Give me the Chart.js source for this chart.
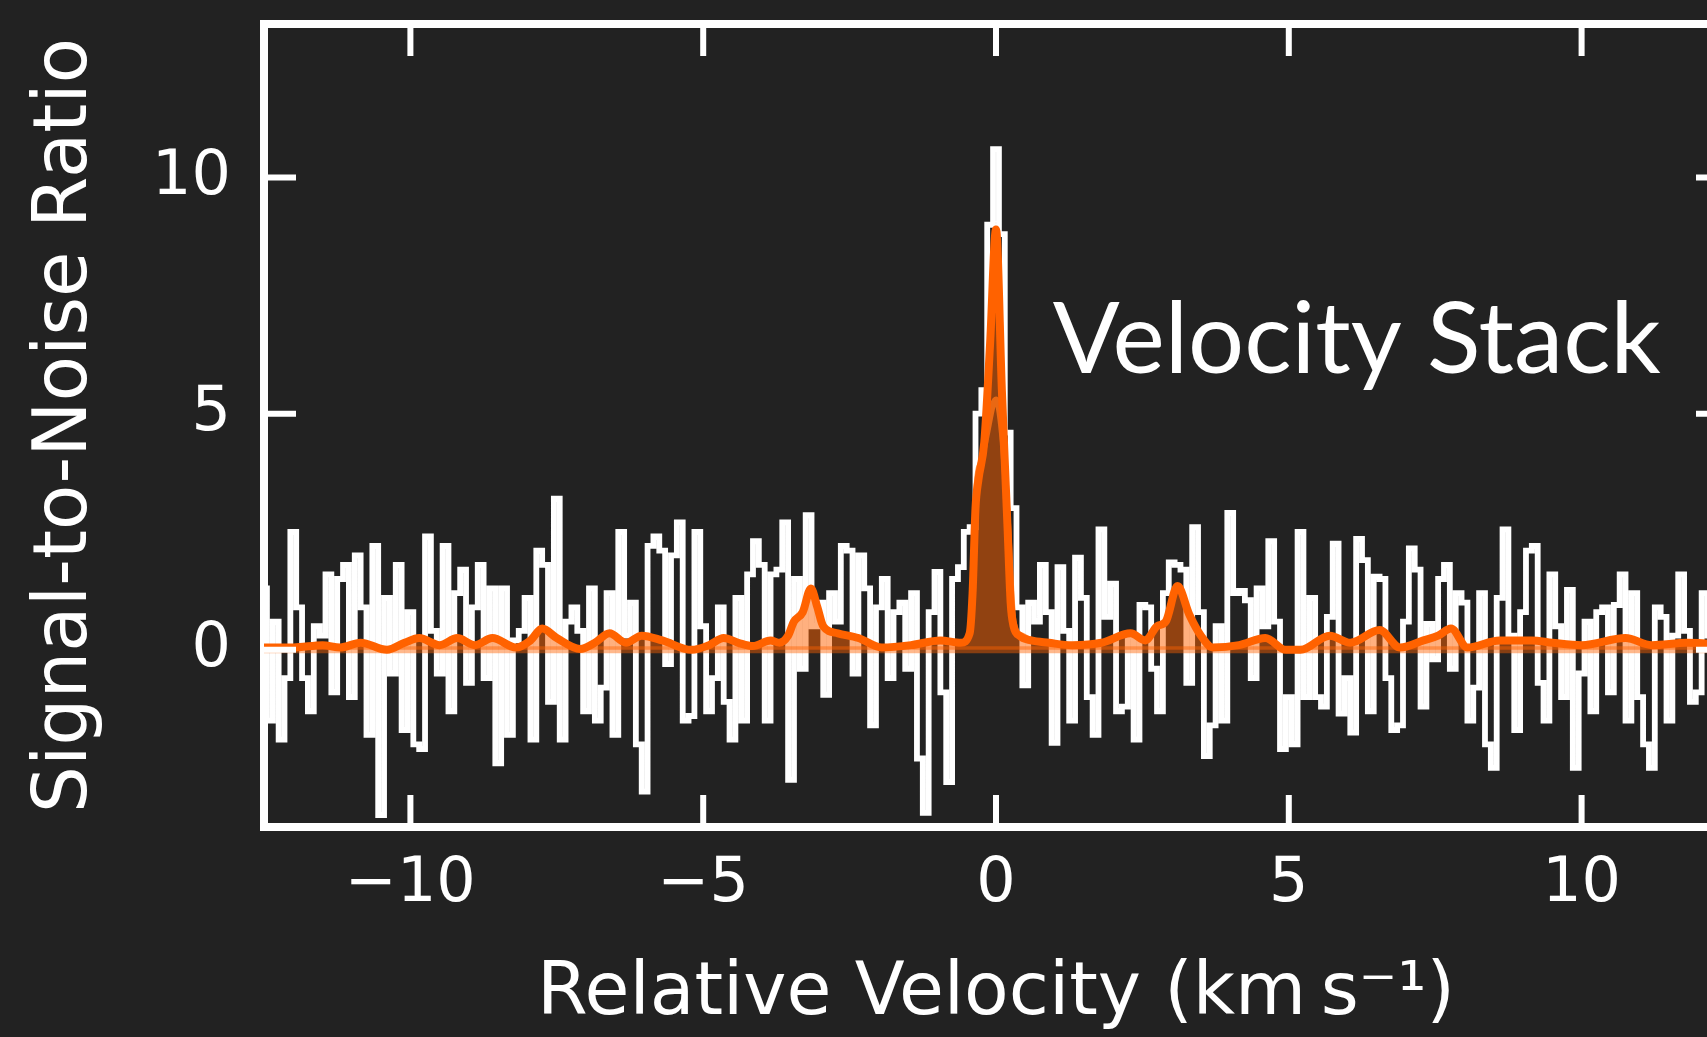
<!DOCTYPE html>
<html>
<head>
<meta charset="utf-8">
<title>Velocity Stack</title>
<script src="https://cdn.jsdelivr.net/npm/chart.js@4.4.1/dist/chart.umd.min.js"></script>
<style>
  html, body { margin: 0; padding: 0; background: #222222; overflow: hidden; }
  canvas { display: block; }
</style>
</head>
<body>
<canvas id="stackChart" width="1740" height="1037"></canvas>
<script>
// velocity channels: 0.1 km/s wide, starting at -12.5 km/s
const channelStart = -12.5;
const channelWidth = 0.1;

// signal-to-noise per channel left to right
const snrFarLeft = [1.3, -1.5, 0.6, -1.9, -0.6, 2.5, 0.9, -0.6, -1.3, 0.5, 0.3, 1.6, -0.9, 1.5, 1.8, -1.0, 2.0, 0.9, -1.8, 2.2, -3.5, 1.1, -0.5, 1.8, -1.7, 0.8, -2.0, -2.1, 2.4, 0.4, -0.5, 2.2, -1.3, 1.2, 1.7, -0.7, 0.9, 1.8, -0.6, 1.3, -2.4, 1.3, -1.8, 0.2];
const snrLeft = [0.4, 1.1, -1.9, 2.1, 1.8, -1.1, 3.2, -1.9, 0.6, 0.9, 0.4, -1.3, 1.3, -1.5, -0.8, 1.2, -1.8, 2.5, 0.3, 1.0, -2.0, -3.0, 2.2, 2.4, 2.1, -0.3, 2.0, 2.7, -1.5, -1.4, 2.5, 0.5, -1.3, -0.6, 0.9, -1.1, -1.9, 1.1, -1.5, 1.6, 2.3, 1.8, -1.5, 1.6];
const snrCenter = [1.7, 2.7, -2.75, 1.5, -0.4, 2.85, 0.5, 1.0, -0.95, 1.2, 0.6, 2.2, 2.1, -0.5, 2.0, 1.3, -1.6, 0.9, 1.5, -0.6, 0.8, 1.0, -0.4, 1.2, -2.3, -3.45, 0.8, 1.65, -0.9, -2.8, 1.5, 1.75, 2.5, 2.6, 5.0, 5.5, 9.0, 10.6, 8.8, 4.6, 3.0, 0.9, -0.75, 1.0];
const snrRight = [0.6, 1.8, 0.8, -1.97, 1.75, 0.4, -1.5, 1.95, 1.1, -1.0, -1.8, 2.55, 0.7, 1.4, -1.3, -1.2, 0.3, -1.9, 0.95, 0.9, -0.4, -1.3, 1.2, 1.85, 1.8, 1.7, -0.7, 2.6, 0.8, -2.25, -1.6, 0.5, -1.5, 2.9, 1.2, 1.25, 1.05, -0.6, 1.3, 0.5, 2.3, 0.6, -2.1, -1.0];
const snrFarRight = [-2.0, 2.5, -1.0, 1.1, -1.0, -1.2, 0.7, 2.25, -1.35, -0.6, -1.75, 2.35, 1.9, -1.3, 1.55, 1.5, -0.6, -1.7, -1.6, 0.6, 2.15, 1.7, -1.2, 0.55, -0.2, 1.5, 1.8, -0.4, 1.2, 1.0, -1.5, -0.8, 1.2, -2.0, -2.5, 1.1, 2.55, 0.3, -1.7, 0.8, 2.1, 2.2, -0.7, -1.5, 1.6];
const snrEdge = [0.5, -1.0, 1.27, -2.5, -0.5, 0.6, -1.3, 0.8, 0.9, -0.9, 0.95, 1.6, -1.5, 1.2, -1.0, -2.0, -2.5, 0.9, 0.7, -1.5, 0.3, 1.6, 0.4, -1.1, -0.9, 1.2, 0.3, -0.5, 0.4, 0.1];

// smoothed stack (orange)
const smoothVel = [-12.5, -12.0, -11.5, -11.2, -10.85, -10.4, -10.1, -9.85, -9.5, -9.2, -8.9, -8.6, -8.2, -7.95, -7.75, -7.5, -7.1, -6.85, -6.6, -6.32, -6.05, -5.7, -5.2, -4.9, -4.65, -4.4, -4.15, -3.85, -3.7, -3.55, -3.45, -3.3, -3.16, -3.05, -2.95, -2.7, -2.35, -1.95, -1.45, -0.95, -0.6, -0.45, -0.4, -0.35, -0.3, -0.2, -0.1, 0.0, 0.1, 0.2, 0.25, 0.3, 0.4, 0.6, 0.9, 1.3, 1.8, 2.3, 2.55, 2.75, 2.9, 3.1, 3.3, 3.5, 3.7, 4.15, 4.6, 4.95, 5.2, 5.7, 6.05, 6.55, 6.9, 7.3, 7.55, 7.77, 8.05, 8.6, 9.15, 9.5, 10.0, 10.75, 11.2, 11.8, 12.5];
const smoothSnr = [0.05, 0.05, 0.1, 0.05, 0.15, 0.0, 0.15, 0.25, 0.1, 0.25, 0.1, 0.25, 0.05, 0.2, 0.45, 0.25, 0.02, 0.15, 0.35, 0.15, 0.3, 0.2, 0.0, 0.1, 0.25, 0.15, 0.08, 0.2, 0.15, 0.3, 0.6, 0.8, 1.3, 0.9, 0.5, 0.35, 0.25, 0.05, 0.1, 0.2, 0.15, 0.35, 1.2, 3.0, 3.6, 4.4, 6.5, 8.9, 5.5, 2.5, 1.0, 0.5, 0.3, 0.2, 0.15, 0.1, 0.15, 0.35, 0.2, 0.5, 0.6, 1.35, 0.75, 0.3, 0.05, 0.1, 0.25, 0.0, 0.0, 0.3, 0.15, 0.42, 0.05, 0.2, 0.3, 0.45, 0.05, 0.2, 0.2, 0.15, 0.1, 0.25, 0.1, 0.15, 0.1];

// broader fit through the central line (lighter orange)
const fitVel = [-0.6, -0.45, -0.4, -0.33, -0.25, -0.15, -0.05, 0.0, 0.1, 0.2, 0.3, 0.45, 0.6];
const fitSnr = [0.15, 0.35, 1.2, 3.5, 4.0, 4.6, 5.2, 5.3, 4.6, 2.8, 0.6, 0.3, 0.2];

const xTicks = [-10, -5, 0, 5, 10];
const yTicks = [0, 5, 10];

const labelText = 'Velocity Stack';
const labelVel = 0.97;
const labelSnr = 5.86;

const snrAll = [].concat(snrFarLeft, snrLeft, snrCenter, snrRight, snrFarRight, snrEdge);
const channelPoints = snrAll.map((s, i) => ({ x: channelStart + i * channelWidth, y: s }));
const smoothPoints = smoothVel.map((v, i) => ({ x: v, y: smoothSnr[i] }));
const fitPoints = fitVel.map((v, i) => ({ x: v, y: fitSnr[i] }));

function fmtTick(value) {
    return value < 0 ? '\u2212' + Math.abs(value) : String(value);
}

const orange = '#ff6200';
const tickFont = { family: 'DejaVu Sans', size: 62 };

// matplotlib style ticks pointing into the frame
const innerTicks = {
    id: 'innerTicks',
    afterDraw(chart) {
        const { ctx, chartArea: a } = chart;
        const x = chart.scales.x;
        const y = chart.scales.y;
        const len = 32;
        ctx.save();
        ctx.strokeStyle = '#ffffff';
        ctx.lineWidth = 6;
        ctx.beginPath();
        xTicks.forEach(v => {
            const px = x.getPixelForValue(v);
            ctx.moveTo(px, a.bottom); ctx.lineTo(px, a.bottom - len);
            ctx.moveTo(px, a.top); ctx.lineTo(px, a.top + len);
        });
        yTicks.forEach(v => {
            const py = y.getPixelForValue(v);
            ctx.moveTo(a.left, py); ctx.lineTo(a.left + len, py);
            ctx.moveTo(a.right, py); ctx.lineTo(a.right - len, py);
        });
        ctx.stroke();

        // annotation text
        ctx.fillStyle = '#ffffff';
        ctx.font = '99px Lato';
        ctx.textAlign = 'left';
        ctx.textBaseline = 'alphabetic';
        ctx.fillText(labelText, x.getPixelForValue(labelVel), y.getPixelForValue(labelSnr));
        ctx.restore();
    }
};

// fixed axis boxes, no extra padding from label overflow
function fixBox(size) {
    return s => {
        if (s.isHorizontal()) { s.height = size; } else { s.width = size; }
        s.paddingTop = 0; s.paddingBottom = 0; s.paddingLeft = 0; s.paddingRight = 0;
    };
}

function frameAxis(extra) {
    return Object.assign({
        type: 'linear',
        grid: { display: true, drawOnChartArea: false, drawTicks: false, color: 'rgba(0,0,0,0)' },
        border: { display: true, color: '#ffffff', width: 8 },
    }, extra);
}

const ctx = document.getElementById('stackChart').getContext('2d');
const stackChart = new Chart(ctx, {
    type: 'line',
    data: {
        datasets: [
            {
                label: 'smoothed',
                data: smoothPoints,
                borderColor: orange,
                borderWidth: 8,
                backgroundColor: 'rgba(255, 98, 0, 0.5)',
                fill: 'origin',
                cubicInterpolationMode: 'monotone',
                pointRadius: 0,
                order: 0
            },
            {
                label: 'fit',
                data: fitPoints,
                borderColor: 'rgba(255, 130, 40, 0.8)',
                borderWidth: 6,
                fill: false,
                cubicInterpolationMode: 'monotone',
                pointRadius: 0,
                order: 1
            },
            {
                label: 'zero',
                data: [{ x: -12.5, y: 0 }, { x: 12.5, y: 0 }],
                borderColor: 'rgba(255, 98, 0, 0.45)',
                borderWidth: 7,
                fill: false,
                pointRadius: 0,
                order: 2
            },
            {
                label: 'channels',
                data: channelPoints,
                borderColor: '#ffffff',
                borderWidth: 5.8,
                stepped: 'middle',
                fill: false,
                pointRadius: 0,
                order: 3
            }
        ]
    },
    options: {
        responsive: false,
        animation: false,
        devicePixelRatio: 1,
        layout: { padding: 0 },
        plugins: {
            legend: { display: false },
            tooltip: { enabled: false }
        },
        scales: {
            x: frameAxis({
                position: 'bottom',
                min: -12.5,
                max: 12.5,
                afterFit: fixBox(210),
                afterBuildTicks: s => { s.ticks = xTicks.map(v => ({ value: v })); },
                ticks: { color: '#ffffff', font: tickFont, padding: 21, maxRotation: 0, autoSkip: false, callback: fmtTick },
                title: { display: true, text: 'Relative Velocity (km\u2009s\u207B\u00B9)', color: '#ffffff', font: { family: 'DejaVu Sans', size: 73, lineHeight: 1 }, padding: { top: 0, bottom: 5 } }
            }),
            xTop: frameAxis({
                position: 'top',
                min: -12.5,
                max: 12.5,
                afterFit: fixBox(24),
                ticks: { display: false }
            }),
            y: frameAxis({
                position: 'left',
                min: -3.75,
                max: 13.25,
                afterFit: fixBox(264),
                afterBuildTicks: s => { s.ticks = yTicks.map(v => ({ value: v })); },
                ticks: { color: '#ffffff', font: tickFont, padding: 33, callback: fmtTick },
                title: { display: true, text: 'Signal-to-Noise Ratio', color: '#ffffff', font: { family: 'DejaVu Sans', size: 74, lineHeight: 1 }, padding: { top: 30, bottom: 0 } }
            }),
            yRight: frameAxis({
                position: 'right',
                min: -3.75,
                max: 13.25,
                afterFit: fixBox(12),
                ticks: { display: false }
            })
        }
    },
    plugins: [innerTicks]
});
</script>
</body>
</html>
